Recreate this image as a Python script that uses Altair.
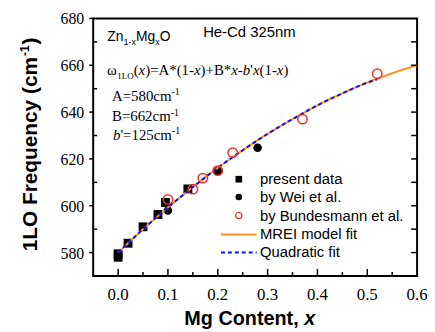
import altair as alt
import pandas as pd

# ---------------- data ----------------
present_x = [0.0, 0.0, 0.02, 0.05, 0.08, 0.095, 0.14]
present_y = [578.0, 579.5, 584.0, 591.0, 596.3, 601.4, 607.2]

wei_x = [0.10, 0.20, 0.28]
wei_y = [598.0, 614.8, 624.8]

bund_x = [0.10, 0.15, 0.17, 0.20, 0.23, 0.37, 0.52]
bund_y = [602.7, 607.1, 611.8, 615.0, 622.7, 637.0, 656.4]

mrei_x = [0.0, 0.05, 0.10, 0.15, 0.20, 0.25, 0.30, 0.35, 0.40, 0.45, 0.50, 0.55, 0.60]
mrei_y = [580.0, 590.0, 599.3, 608.0, 616.2, 623.7, 630.7, 637.0, 642.9, 648.0, 652.6, 656.6, 660.0]

quad_x = [0.0, 0.05, 0.10, 0.15, 0.20, 0.25, 0.30, 0.35, 0.40, 0.45, 0.50, 0.52]
quad_y = [580.0, 590.0, 599.3, 608.0, 616.2, 623.7, 630.7, 637.0, 642.9, 648.0, 652.6, 654.0]

x_ticks = [0.0, 0.1, 0.2, 0.3, 0.4, 0.5, 0.6]
x_minor = [0.05, 0.15, 0.25, 0.35, 0.45, 0.55]
y_ticks = [580, 600, 620, 640, 660, 680]
y_minor = [590, 610, 630, 650, 670]
y_all = [580, 590, 600, 610, 620, 630, 640, 650, 660, 670]

legend_labels = ["present data", "by Wei et al.", "by Bundesmann et al.",
                 "MREI model fit", "Quadratic fit"]

W, H = 327, 260
XD = [-0.05, 0.6]
YD = [570, 680]
ORANGE = "#F7931E"
BLUE = "#1010F0"
RED = "#E8302A"
SERIF = "Liberation Serif"
SANS = "Liberation Sans"


def to_dx(px):
    return XD[0] + px / W * (XD[1] - XD[0])


def to_dy(py):
    return YD[1] - py / H * (YD[1] - YD[0])


# ---------------- text layout helper ----------------
TIMES = {'(': .333, ')': .333, '=': .564, 'A': .722, 'B': .667, '*': .5, '+': .564,
         '-': .333, 'c': .444, 'm': .778, "'": .18, 'ω': .69, 'L': .611, 'O': .722, ' ': .25}
TIMES_I = {'x': .444, 'b': .5}
ARIAL = {'Z': .611, 'n': .556, 'M': .833, 'g': .556, 'O': .778, '1': .556, '-': .333, 'x': .5}
ARIAL_B = {'M': .833, 'g': .611, ' ': .278, 'C': .722, 'o': .611, 'n': .611, 't': .333,
           'e': .556, ',': .278, 'x': .556}


def width(text, kind, size):
    tab = {'serif': TIMES, 'serif_it': TIMES_I, 'sans': ARIAL,
           'sans_bold': ARIAL_B, 'sans_bold_it': ARIAL_B}[kind]
    return sum(tab.get(ch, .5) for ch in text) * size


rows = []


def lay(x0, y0, segs):
    x = x0
    for text, kind, size, dy in segs:
        rows.append(dict(x=to_dx(x), y=to_dy(y0 + dy), text=text, sz=size, kind=kind))
        x += width(text, kind, size)


lay(14.3, 23, [("Zn", "sans", 14, 0), ("1-x", "sans", 9, 4), ("Mg", "sans", 14, 0),
               ("x", "sans", 9, 4), ("O", "sans", 14, 0)])
lay(111, 19, [("He-Cd 325nm", "sans", 15, 0)])
lay(14, 57, [("ω", "serif", 15, 0), ("1LO", "serif", 9, 4), ("(", "serif", 15, 0),
             ("x", "serif_it", 15, 0), (")=A*(1-", "serif", 15, 0), ("x", "serif_it", 15, 0),
             (")+B*", "serif", 15, 0), ("x", "serif_it", 15, 0), ("-", "serif", 15, 0),
             ("b", "serif_it", 15, 0), ("'", "serif", 15, 0), ("x", "serif_it", 15, 0),
             ("(1-", "serif", 15, 0), ("x", "serif_it", 15, 0), (")", "serif", 15, 0)])
lay(19, 83, [("A=580cm", "serif", 15, 0), ("-1", "serif", 10, -6)])
lay(19, 104, [("B=662cm", "serif", 15, 0), ("-1", "serif", 10, -6)])
lay(20, 123, [("b", "serif_it", 15, 0), ("'=125cm", "serif", 15, 0), ("-1", "serif", 10, -6)])
lay(92, 309, [("Mg Content, ", "sans_bold", 20, 0), ("x", "sans_bold_it", 20, 0)])

leg_rows_y = [162.3, 180.3, 199.0, 218.0, 236.3]
for lbl, ry in zip(legend_labels, leg_rows_y):
    rows.append(dict(x=to_dx(168.3), y=to_dy(ry + 5), text=lbl, sz=15, kind="sans"))

ann = pd.DataFrame(rows)

# y title (rotated)
yt_main_end = 235 - 9.336 * 21 - 1
ytitle = pd.DataFrame([
    dict(x=to_dx(-57), y=to_dy(235), text="1LO Frequency (cm", sz=21),
    dict(x=to_dx(-65), y=to_dy(yt_main_end), text="-1", sz=12),
    dict(x=to_dx(-57), y=to_dy(yt_main_end - 0.889 * 12 - 1), text=")", sz=21),
])

# ---------------- encodings ----------------
xsc = alt.Scale(domain=XD, nice=False, zero=False)
ysc = alt.Scale(domain=YD, nice=False, zero=False)
xenc = alt.X("x:Q", scale=xsc, axis=None)
yenc = alt.Y("y:Q", scale=ysc, axis=None)

present = pd.DataFrame({"x": present_x, "y": present_y})
wei = pd.DataFrame({"x": wei_x, "y": wei_y})
bund = pd.DataFrame({"x": bund_x, "y": bund_y})
mrei = pd.DataFrame({"x": mrei_x, "y": mrei_y})
quad = pd.DataFrame({"x": quad_x, "y": quad_y})

l_present = alt.Chart(present).mark_point(shape="square", filled=True, color="black",
                                          size=80, opacity=1).encode(x=xenc, y=yenc)
l_wei = alt.Chart(wei).mark_point(shape="circle", filled=True, color="black",
                                  size=75, opacity=1).encode(x=xenc, y=yenc)
l_bund = alt.Chart(bund).mark_point(shape="circle", filled=False, color=RED, size=90,
                                    strokeWidth=1.5, opacity=1).encode(x=xenc, y=yenc)
l_mrei = alt.Chart(mrei).mark_line(color=ORANGE, strokeWidth=2,
                                   interpolate="monotone").encode(x=xenc, y=yenc)
l_quad = alt.Chart(quad).mark_line(color=BLUE, strokeWidth=2, strokeDash=[4, 3],
                                   interpolate="monotone").encode(x=xenc, y=yenc)

# ticks
t_left_out = alt.Chart(pd.DataFrame({"y": y_ticks})).mark_rule(color="black", strokeWidth=1.5).encode(
    y=yenc, x=alt.value(-4), x2=alt.value(0))
t_left = alt.Chart(pd.DataFrame({"y": y_minor})).mark_rule(color="black", strokeWidth=1.5).encode(
    y=yenc, x=alt.value(0), x2=alt.value(4))
t_right = alt.Chart(pd.DataFrame({"y": y_all})).mark_rule(color="black", strokeWidth=1.5).encode(
    y=yenc, x=alt.value(W - 6), x2=alt.value(W))
t_bot = alt.Chart(pd.DataFrame({"x": x_ticks[:-1]})).mark_rule(color="black", strokeWidth=1.5).encode(
    x=xenc, y=alt.value(H), y2=alt.value(H - 7))
t_bot_m = alt.Chart(pd.DataFrame({"x": x_minor})).mark_rule(color="black", strokeWidth=1.5).encode(
    x=xenc, y=alt.value(H), y2=alt.value(H - 4))

# tick labels
xlab = alt.Chart(pd.DataFrame({"x": x_ticks, "lab": [f"{v:.1f}" for v in x_ticks]})).mark_text(
    font=SERIF, fontSize=17, align="center", baseline="alphabetic", color="black").encode(
    x=xenc, y=alt.value(H + 24), text="lab:N")
ylab = alt.Chart(pd.DataFrame({"y": y_ticks, "lab": [str(v) for v in y_ticks]})).mark_text(
    font=SERIF, fontSize=16, align="right", baseline="middle", color="black", dy=1).encode(
    y=yenc, x=alt.value(-9), text="lab:N")

# legend
lx = 147
one = pd.DataFrame({"a": [0]})
leg = [
    alt.Chart(one).mark_point(shape="square", filled=True, color="black", size=45, opacity=1).encode(
        x=alt.value(lx), y=alt.value(leg_rows_y[0])),
    alt.Chart(one).mark_point(shape="circle", filled=True, color="black", size=45, opacity=1).encode(
        x=alt.value(lx), y=alt.value(leg_rows_y[1])),
    alt.Chart(one).mark_point(shape="circle", filled=False, color=RED, size=40, strokeWidth=1.3,
                              opacity=1).encode(x=alt.value(lx), y=alt.value(leg_rows_y[2])),
    alt.Chart(one).mark_rule(color=ORANGE, strokeWidth=2).encode(
        x=alt.value(129), x2=alt.value(165), y=alt.value(leg_rows_y[3])),
    alt.Chart(one).mark_rule(color=BLUE, strokeWidth=2, strokeDash=[4, 3]).encode(
        x=alt.value(129), x2=alt.value(165), y=alt.value(leg_rows_y[4])),
]


def text_layer(kind, font, style="normal", weight="normal"):
    return alt.Chart(ann[ann.kind == kind]).mark_text(
        font=font, fontStyle=style, fontWeight=weight, align="left", baseline="alphabetic",
        color="black").encode(
        x=xenc, y=yenc, text="text:N", size=alt.Size("sz:Q", scale=None, legend=None))


texts = [
    text_layer("serif", SERIF),
    text_layer("serif_it", SERIF, style="italic"),
    text_layer("sans", SANS),
    text_layer("sans_bold", SANS, weight="bold"),
    text_layer("sans_bold_it", SANS, style="italic", weight="bold"),
]
ytl = alt.Chart(ytitle).mark_text(font=SANS, fontWeight="bold", angle=270,
                                  align="left", baseline="alphabetic", color="black").encode(
    x=xenc, y=yenc, text="text:N", size=alt.Size("sz:Q", scale=None, legend=None))

chart = alt.layer(
    l_present, l_wei, l_mrei, l_quad, l_bund,
    t_left_out, t_left, t_right, t_bot, t_bot_m, xlab, ylab, *leg, *texts, ytl
).properties(
    width=W, height=H,
    autosize=alt.AutoSizeParams(type="none"),
    padding={"left": 86, "top": 9, "right": 10, "bottom": 55},
    background="white",
).configure_view(stroke="black", strokeWidth=2)

chart.save("out.html", embed_options={"renderer": "svg", "actions": False})
